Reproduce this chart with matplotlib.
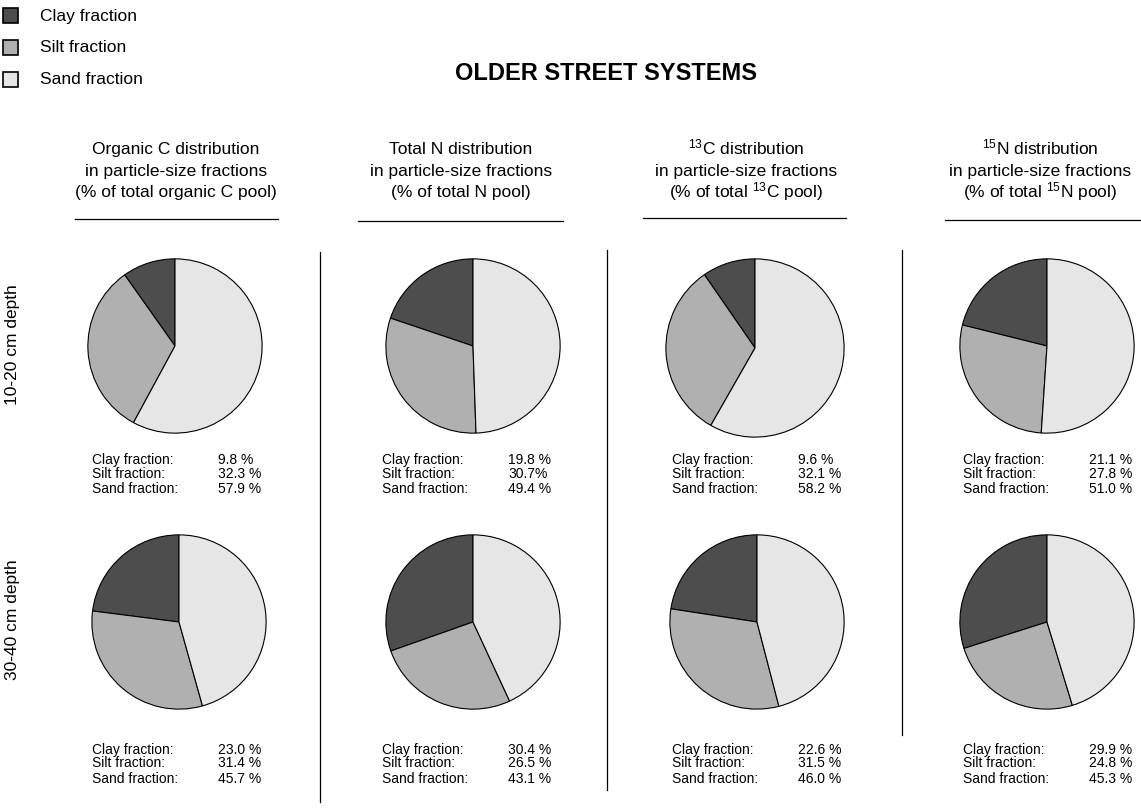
import matplotlib
matplotlib.use("Agg")
import matplotlib.pyplot as plt

plt.rcParams['font.family'] = ['Liberation Sans', 'DejaVu Sans']
plt.rcParams['mathtext.fontset'] = 'custom'
plt.rcParams['mathtext.rm'] = 'Liberation Sans'
plt.rcParams['mathtext.it'] = 'Liberation Sans:italic'
plt.rcParams['mathtext.bf'] = 'Liberation Sans:bold'

fractions = ['Clay fraction', 'Silt fraction', 'Sand fraction']
colors = ['#4d4d4d', '#b0b0b0', '#e6e6e6']
depths = ['10-20 cm depth', '30-40 cm depth']
headers = [
    ['Organic C distribution', 'in particle-size fractions', '(% of total organic C pool)'],
    ['Total N distribution', 'in particle-size fractions', '(% of total N pool)'],
    [r'$^{\mathrm{13}}$C distribution', 'in particle-size fractions', r'(% of total $^{\mathrm{13}}$C pool)'],
    [r'$^{\mathrm{15}}$N distribution', 'in particle-size fractions', r'(% of total $^{\mathrm{15}}$N pool)'],
]

# clay, silt, sand (%) per depth row and column
organic_c = [[9.8, 32.3, 57.9], [23.0, 31.4, 45.7]]
total_n = [[19.8, 30.7, 49.4], [30.4, 26.5, 43.1]]
c13 = [[9.6, 32.1, 58.2], [22.6, 31.5, 46.0]]
n15 = [[21.1, 27.8, 51.0], [29.9, 24.8, 45.3]]
columns = [organic_c, total_n, c13, n15]

W, H = 1141, 810
fig = plt.figure(figsize=(W / 100, H / 100), dpi=100)


def fx(px):
    return px / W


def fy(py):
    return 1 - py / H


# pie centres / radii in pixels
pie_pos = [
    [(175, 346, 88), (473, 346, 88), (755, 348, 90), (1047, 346, 88)],
    [(179, 622, 88), (473, 622, 88), (757, 622, 88), (1047, 622, 88)],
]
text_x = [92, 382, 672, 963]
val_dx = 126
text_y = [[460, 474, 489], [750, 763, 779]]

for r in range(2):
    for c in range(4):
        cx, cy, rad = pie_pos[r][c]
        ax = fig.add_axes([fx(cx - rad), fy(cy + rad), 2 * rad / W, 2 * rad / H])
        ax.pie(columns[c][r], colors=colors, startangle=90, counterclock=True,
               radius=1, wedgeprops=dict(edgecolor='black', linewidth=0.8))
        ax.set_xlim(-1.01, 1.01)
        ax.set_ylim(-1.01, 1.01)
        ax.axis('off')
        for i, name in enumerate(fractions):
            val = f"{columns[c][r][i]:.1f} %"
            if (r, c, i) == (0, 1, 1):
                val = val.replace(' ', '')
            fig.text(fx(text_x[c]), fy(text_y[r][i]), name + ':', fontsize=10, va='center', ha='left')
            fig.text(fx(text_x[c] + val_dx), fy(text_y[r][i]), val, fontsize=10, va='center', ha='left')

# column headers and underlines
header_x = [176, 461, 746, 1040]
header_y = [148, 170, 191]
underlines = [(75, 278, 219), (358, 563, 221), (643, 846, 218), (945, 1140, 220)]
for c in range(4):
    for line, py in zip(headers[c], header_y):
        fig.text(fx(header_x[c]), fy(py + 6), line, fontsize=12.5, ha='center', va='baseline')
    x0, x1, yy = underlines[c]
    fig.add_artist(plt.Line2D([fx(x0), fx(x1)], [fy(yy), fy(yy)], color='black', lw=0.9))

# vertical separators
for xx, y0, y1 in [(320, 252, 802), (607, 250, 790), (902, 250, 735)]:
    fig.add_artist(plt.Line2D([fx(xx), fx(xx)], [fy(y0), fy(y1)], color='black', lw=0.9))

# depth labels
for d, py in zip(depths, [345, 620]):
    fig.text(fx(13), fy(py), d, fontsize=12.5, rotation=90, ha='center', va='center')

# title
fig.text(fx(606), fy(74), 'OLDER STREET SYSTEMS', fontsize=17, fontweight='bold',
         ha='center', va='center')

# legend
for i, (name, col) in enumerate(zip(fractions, colors)):
    py = 16 + 32 * i
    fig.add_artist(plt.Rectangle((fx(3), fy(py + 7)), 15 / W, 15 / H, facecolor=col,
                                 edgecolor='black', lw=1.2))
    fig.text(fx(40), fy(py), name, fontsize=12.5, ha='left', va='center')

fig.savefig('out.png', dpi=100)
